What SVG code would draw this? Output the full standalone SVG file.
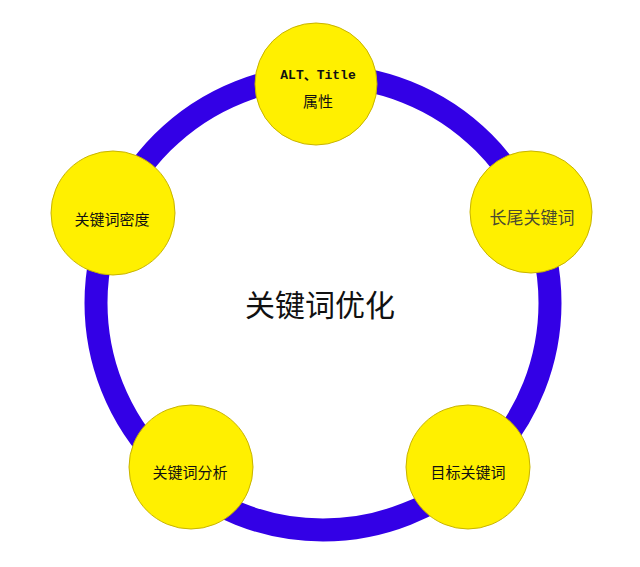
<svg xmlns="http://www.w3.org/2000/svg" width="640" height="567" viewBox="0 0 640 567">
<style>
.node{fill:#FFF000;stroke:#C8B400;stroke-width:1}
.lbl{font-family:"Liberation Sans","Noto Sans CJK SC",sans-serif;font-size:15px;fill:#111;text-anchor:middle;dominant-baseline:central}
.mono{font-family:"Liberation Mono","Noto Sans CJK SC",monospace;font-size:13px;font-weight:bold;fill:#111;text-anchor:middle;dominant-baseline:central}
</style>
<rect width="640" height="567" fill="#ffffff"/>
<g id="connectors">
<circle cx="323" cy="303" r="227" fill="none" stroke="#3300E6" stroke-width="23"/>
</g>
<g id="center">
<text x="320" y="305" style="font-family:'Liberation Sans','Noto Sans CJK SC',sans-serif;font-size:30px;fill:#111;text-anchor:middle;dominant-baseline:central">关键词优化</text>
</g>
<g id="node-alt">
<circle class="node" cx="316" cy="84" r="61"/>
<text class="mono" x="318" y="75">ALT、Title</text>
<text class="lbl" x="318" y="101">属性</text>
</g>
<g id="node-longtail">
<circle class="node" cx="531" cy="212" r="61"/>
<text class="lbl" x="532" y="218" style="font-size:17px;fill:#4a4a30">长尾关键词</text>
</g>
<g id="node-target">
<circle class="node" cx="468" cy="467" r="62"/>
<text class="lbl" x="468" y="472">目标关键词</text>
</g>
<g id="node-analysis">
<circle class="node" cx="191" cy="467" r="62"/>
<text class="lbl" x="190" y="472">关键词分析</text>
</g>
<g id="node-density">
<circle class="node" cx="113" cy="213" r="62"/>
<text class="lbl" x="112" y="219">关键词密度</text>
</g>
</svg>
